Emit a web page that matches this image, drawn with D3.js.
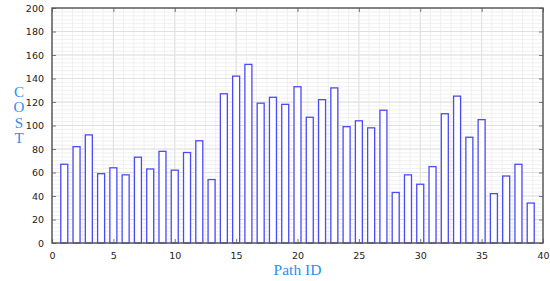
<!DOCTYPE html>
<html>
<head>
<meta charset="utf-8">
<script src="https://cdn.jsdelivr.net/npm/d3@7"></script>
<style>
  body { margin: 0; background: #fff; }
  text { font-family: "DejaVu Sans", sans-serif; }
</style>
</head>
<body>
<div id="chart"></div>
<script>
// data
const pathIds = d3.range(1, 40);
const costs = [67, 82, 92, 59, 64, 58, 73, 63, 78, 62, 77, 87, 54, 127, 142, 152, 119, 124, 118, 133,
               107, 122, 132, 99, 104, 98, 113, 43, 58, 50, 65, 110, 125, 90, 105, 42, 57, 67, 34];
const xTicks = [0, 5, 10, 15, 20, 25, 30, 35, 40];
const yTicks = [0, 20, 40, 60, 80, 100, 120, 140, 160, 180, 200];

const margin = {top: 8, right: 7, bottom: 38, left: 52};
const W = 550, H = 281;
const width = W - margin.left - margin.right;
const height = H - margin.top - margin.bottom;

const svg = d3.select("#chart").append("svg")
    .attr("width", W).attr("height", H)
  .append("g")
    .attr("transform", `translate(${margin.left}, ${margin.top})`);

const x = d3.scaleLinear().domain([0, 40]).range([0, width]);
const y = d3.scaleLinear().domain([0, 200]).range([height, 0]);

// minor grid (5 minor ticks between majors)
const minorX = d3.range(0, 40.001, 5 / 6);
const minorY = d3.range(0, 200.001, 20 / 6);

svg.append("g").selectAll("line").data(minorX).enter().append("line")
    .attr("x1", d => x(d)).attr("x2", d => x(d))
    .attr("y1", 0).attr("y2", height)
    .attr("stroke", "#ececec").attr("stroke-width", 0.8);
svg.append("g").selectAll("line").data(minorY).enter().append("line")
    .attr("y1", d => y(d)).attr("y2", d => y(d))
    .attr("x1", 0).attr("x2", width)
    .attr("stroke", "#ececec").attr("stroke-width", 0.8);

// major grid
svg.append("g").selectAll("line").data(xTicks).enter().append("line")
    .attr("x1", d => x(d)).attr("x2", d => x(d))
    .attr("y1", 0).attr("y2", height)
    .attr("stroke", "#e0e0e0").attr("stroke-width", 1);
svg.append("g").selectAll("line").data(yTicks).enter().append("line")
    .attr("y1", d => y(d)).attr("y2", d => y(d))
    .attr("x1", 0).attr("x2", width)
    .attr("stroke", "#e0e0e0").attr("stroke-width", 1);

// bars
const barW = 7;
svg.append("g").selectAll("rect").data(costs).enter().append("rect")
    .attr("x", (d, i) => x(pathIds[i]) - barW / 2)
    .attr("y", d => y(d))
    .attr("width", barW)
    .attr("height", d => height - y(d))
    .attr("fill", "#fff")
    .attr("stroke", "#4b4bf5")
    .attr("stroke-width", 1.3);

// axes (ticks inside)
const xAxis = d3.axisBottom(x).tickValues(xTicks).tickSize(-4).tickPadding(9);
const yAxis = d3.axisLeft(y).tickValues(yTicks).tickSize(-4).tickPadding(8);
const xTop = d3.axisTop(x).tickValues(xTicks).tickSize(-4).tickFormat("");
const yRight = d3.axisRight(y).tickValues(yTicks).tickSize(-4).tickFormat("");

function style(g) {
  g.select(".domain").remove();
  g.selectAll(".tick line").attr("stroke", "#777").attr("stroke-width", 1);
  g.selectAll(".tick text").attr("fill", "#222").attr("font-size", 9.5);
}

svg.append("g").attr("transform", `translate(0, ${height})`).call(xAxis).call(style);
svg.append("g").call(yAxis).call(style);
svg.append("g").call(xTop).call(style);
svg.append("g").attr("transform", `translate(${width}, 0)`).call(yRight).call(style);

// frame
svg.append("rect")
    .attr("x", 0).attr("y", 0).attr("width", width).attr("height", height)
    .attr("fill", "none").attr("stroke", "#555").attr("stroke-width", 1.4);

// axis titles
svg.append("text")
    .attr("x", width / 2).attr("y", height + 32)
    .attr("text-anchor", "middle")
    .style("font-family", "'Liberation Serif', serif")
    .attr("font-size", 15.5)
    .attr("fill", "#2b8ef5")
    .text("Path ID");

const ylabel = ["C", "O", "S", "T"];
svg.append("g").selectAll("text").data(ylabel).enter().append("text")
    .attr("x", 19 - margin.left)
    .attr("y", (d, i) => 97 - margin.top + i * 15.3)
    .attr("text-anchor", "middle")
    .style("font-family", "'Liberation Serif', serif")
    .attr("font-size", 15)
    .attr("fill", "#2b8ef5")
    .text(d => d);
</script>
</body>
</html>
